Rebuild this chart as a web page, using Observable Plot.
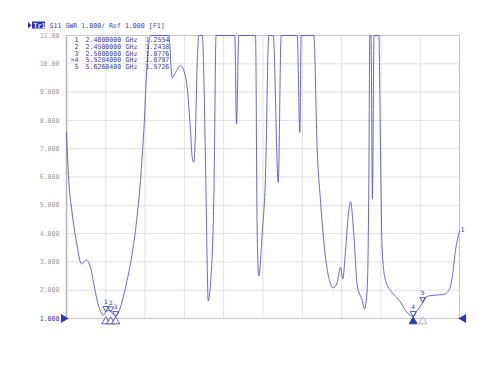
<!DOCTYPE html>
<html><head><meta charset="utf-8">
<script src="https://cdn.jsdelivr.net/npm/d3@7"></script>
<script src="https://cdn.jsdelivr.net/npm/@observablehq/plot@0.6"></script>
<style>html,body{margin:0;padding:0;background:#fff} svg{display:block}</style>
</head><body><div id="chart"></div>
<script>
const freqGHz = [2.000, 2.023, 2.058, 2.099, 2.153, 2.200, 2.244, 2.278, 2.312, 2.346,
  2.370, 2.385, 2.400, 2.425, 2.450, 2.475, 2.500, 2.516, 2.550, 2.601,
  2.651, 2.702, 2.753, 2.787, 2.821, 2.838, 2.855, 3.041, 3.076, 3.109,
  3.160, 3.194, 3.228, 3.262, 3.279, 3.296, 3.313, 3.330, 3.347, 3.381,
  3.415, 3.432, 3.442, 3.466, 3.499, 3.506, 3.522, 3.713, 3.730, 3.754,
  3.924, 3.941, 3.957, 3.992, 4.025, 4.059, 4.104, 4.155, 4.185, 4.348,
  4.375, 4.389, 4.517, 4.552, 4.585, 4.636, 4.687, 4.712, 4.753, 4.789,
  4.812, 4.840, 4.873, 4.891, 4.924, 4.959, 5.010, 5.033, 5.061, 5.077,
  5.087, 5.099, 5.114, 5.130, 5.179, 5.196, 5.213, 5.247, 5.298, 5.349,
  5.400, 5.450, 5.5284, 5.570, 5.626, 5.654, 5.705, 5.840, 5.891, 5.926,
  5.959, 6.000];
const swr = [7.57, 5.88, 4.71, 3.76, 2.93, 3.07, 2.81, 2.22, 1.64, 1.25,
  1.12, 1.15, 1.2554, 1.28, 1.2438, 1.15, 1.0776, 1.12, 1.40, 2.11,
  2.93, 4.11, 5.88, 7.64, 10.0, 10.72, 11, 11, 9.50, 9.69,
  9.94, 9.76, 9.17, 7.64, 6.70, 6.52, 7.64, 10.0, 11, 11,
  6.48, 2.94, 1.62, 2.24, 5.17, 6.94, 11, 11, 7.88, 11,
  11, 4.00, 2.50, 4.00, 5.99, 11, 11, 5.81, 11, 11,
  7.58, 11, 11, 6.94, 5.17, 3.17, 2.23, 2.08, 2.25, 2.81,
  2.40, 3.40, 4.82, 5.13, 3.99, 2.17, 1.64, 1.34, 2.06, 5.76,
  11, 11, 5.23, 11, 11, 6.94, 3.40, 2.34, 1.99, 1.78,
  1.58, 1.28, 1.0797, 1.28, 1.5726, 1.75, 1.81, 1.85, 1.99, 2.46,
  3.40, 4.10];

const yTicks = [1, 2, 3, 4, 5, 6, 7, 8, 9, 10, 11];
const xGrid = [2.0, 2.4, 2.8, 3.2, 3.6, 4.0, 4.4, 4.8, 5.2, 5.6, 6.0];

const markerIds = ["1", "2", "3", ">4", "5"];
const markerNums = ["1", "2", "3", "4", "5"];
const markerFreqs = [2.4, 2.45, 2.5, 5.5284, 5.62604];
const markerValues = [1.2554, 1.2438, 1.0776, 1.0797, 1.5726];
const activeMarker = 3;

const headerText = "S11 SWR 1.000/ Ref 1.000 [F1]";
const traceName = "Tr1";
const traceEndLabel = "1";

const trace = freqGHz.map((f, i) => ({f, v: swr[i]}));
const blue = "#3232b4";
const textBlue = "#3a3a9c";
const traceColor = "#5656cc";
const font = "DejaVu Sans Mono";

const headerMark = (index, scales, values, dims) => {
  const g = d3.create("svg:g");
  const ml = dims.marginLeft, mt = dims.marginTop;
  g.append("path").attr("d", `M${ml-38},${mt-13}l3.5,3.2l-3.5,3.2z`).attr("fill", blue);
  g.append("rect").attr("x", ml-34).attr("y", mt-13.5).attr("width", 13).attr("height", 7).attr("fill", blue);
  return g.node();
};

const plot = Plot.plot({
  width: 500, height: 376,
  marginLeft: 66, marginRight: 41, marginTop: 35, marginBottom: 58,
  x: {domain: [2, 6], axis: null},
  y: {domain: [1, 11], axis: null},
  style: {fontFamily: font, fontSize: "6.6px", background: "#fff", overflow: "visible"},
  marks: [
    Plot.ruleX(xGrid, {stroke: "#e1e1e1"}),
    Plot.ruleY(yTicks, {stroke: "#e1e1e1"}),
    Plot.frame({stroke: "#c6c6c6"}),
    Plot.ruleX([2], {stroke: "#b4b4b4", strokeWidth: 1.5}),
    Plot.line(trace, {x: "f", y: "v", stroke: traceColor, strokeWidth: 0.9, curve: "monotone-x"}),
    // y tick labels
    Plot.text(yTicks, {x: 2, y: d => d, text: d => d >= 10 ? d.toFixed(2) : d.toFixed(3),
      textAnchor: "end", dx: -7, fill: d => d === 1 ? blue : "#9a9a9a"}),
    // reference triangles
    Plot.dot([1], {x: 2, y: d => d, symbol: "triangle", rotate: 90, r: 3.3, dx: -3, fill: blue}),
    Plot.dot([1], {x: 6, y: d => d, symbol: "triangle", rotate: -90, r: 3.3, dx: 4, fill: blue}),
    // header
    headerMark,
    Plot.text([traceName], {frameAnchor: "top-left", text: d => d, dx: -33, dy: -10, textAnchor: "start", lineAnchor: "middle", fill: "white", fontWeight: "bold"}),
    Plot.text([headerText], {frameAnchor: "top-left", text: d => d, dx: -17, dy: -10, textAnchor: "start", lineAnchor: "middle", fill: textBlue}),
    // marker table
    Plot.text([markerIds.join("\n")], {frameAnchor: "top-left", text: d => d, dx: 12, dy: 2, textAnchor: "end", lineAnchor: "top", lineHeight: 1.01, fill: textBlue}),
    Plot.text([markerFreqs.map(f => f.toFixed(7)).join("\n")], {frameAnchor: "top-left", text: d => d, dx: 19, dy: 2, textAnchor: "start", lineAnchor: "top", lineHeight: 1.01, fill: textBlue}),
    Plot.text([markerFreqs.map(() => "GHz").join("\n")], {frameAnchor: "top-left", text: d => d, dx: 59, dy: 2, textAnchor: "start", lineAnchor: "top", lineHeight: 1.01, fill: textBlue}),
    Plot.text([markerValues.map(v => v.toFixed(4)).join("\n")], {frameAnchor: "top-left", text: d => d, dx: 79, dy: 2, textAnchor: "start", lineAnchor: "top", lineHeight: 1.01, fill: textBlue}),
    // markers on trace
    Plot.dot(markerFreqs, {x: d => d, y: (d, i) => markerValues[i], symbol: "triangle", rotate: 180, r: 2.2, dy: -3, stroke: blue, strokeWidth: 0.8, fill: "none"}),
    Plot.text(markerNums, {x: (d, i) => markerFreqs[i], y: (d, i) => markerValues[i], text: d => d, dy: -9, fill: blue, fontSize: 6}),
    // markers on the frequency axis
    Plot.dot(markerFreqs, {x: d => d, y: 1, symbol: "triangle", r: 3, dy: 3, stroke: (d, i) => i === 4 ? "#9a9ad2" : blue, strokeWidth: 0.8,
      fill: (d, i) => i === activeMarker ? blue : "white"}),
    // trace end label
    Plot.text([traceEndLabel], {x: 6, y: swr[swr.length - 1], text: d => d, dx: 1, dy: -1, textAnchor: "start", fill: blue})
  ]
});
document.getElementById("chart").appendChild(plot);
</script>
</body></html>
